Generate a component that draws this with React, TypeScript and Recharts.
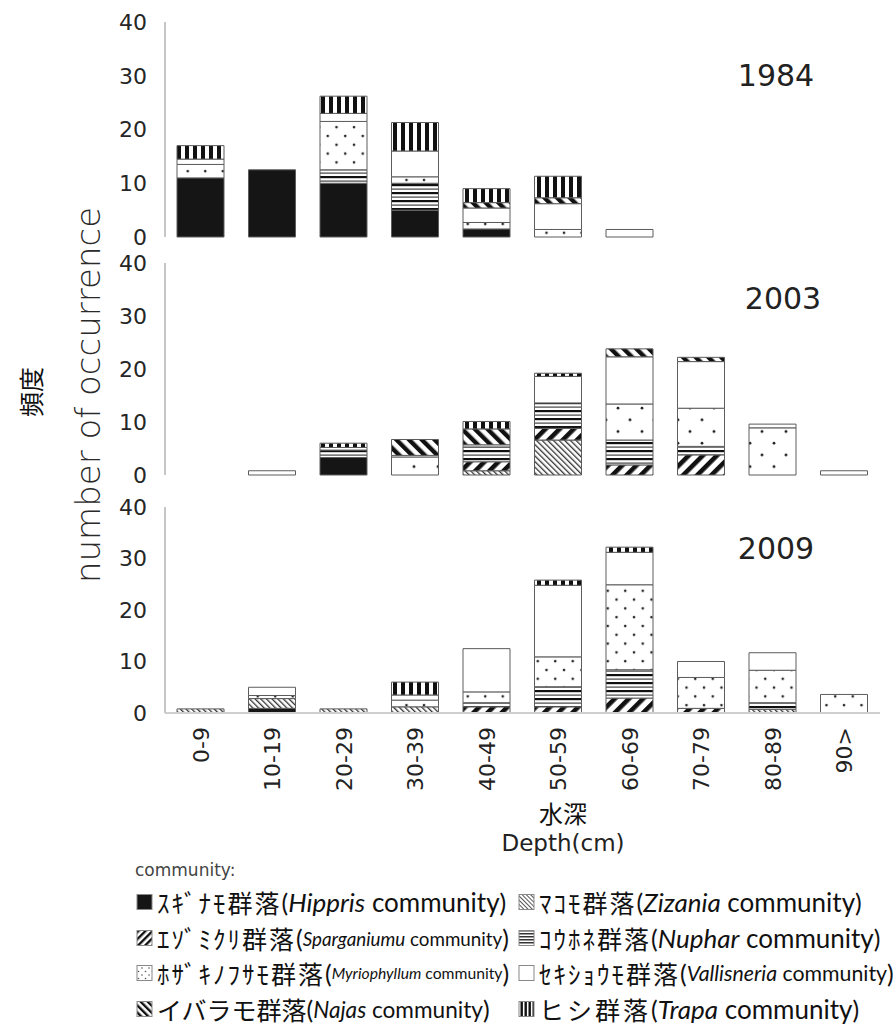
import React from 'react';
import { BarChart, Bar, XAxis, YAxis } from 'recharts';

// Depth classes (cm)
const depthBins = ['0-9', '10-19', '20-29', '30-39', '40-49', '50-59', '60-69', '70-79', '80-89', '90>'];
const countTicks = [0, 10, 20, 30, 40];

// 1984 survey
const hippris1984 = [11, 12.5, 10, 5, 1.5, 0, 0, 0, 0, 0];
const zizania1984 = [0, 0, 0, 0, 0, 0, 0, 0, 0, 0];
const sparganium1984 = [0, 0, 0, 0, 0, 0, 0, 0, 0, 0];
const nuphar1984 = [0, 0, 2.5, 5, 0, 0, 0, 0, 0, 0];
const myriophyllum1984 = [2.5, 0, 9, 1.2, 1.2, 1.4, 0, 0, 0, 0];
const vallisneria1984 = [1, 0, 1.5, 4.8, 2.7, 4.8, 1.4, 0, 0, 0];
const najas1984 = [0, 0, 0, 0, 1, 1.1, 0, 0, 0, 0];
const trapa1984 = [2.5, 0, 3.2, 5.3, 2.6, 4, 0, 0, 0, 0];

// 2003 survey
const hippris2003 = [0, 0, 3.3, 0, 0, 0, 0, 0, 0, 0];
const zizania2003 = [0, 0, 0, 0, 0.8, 6.6, 0, 0, 0, 0];
const sparganium2003 = [0, 0, 0, 0, 1.7, 2.2, 1.9, 3.8, 0, 0];
const nuphar2003 = [0, 0, 1.4, 0, 2.8, 4.8, 4.7, 1.6, 0, 0];
const myriophyllum2003 = [0, 0, 0, 3.4, 0, 0, 6.8, 7.2, 8.9, 0];
const vallisneria2003 = [0, 0.8, 0.5, 0.3, 0.4, 5, 8.9, 8.8, 0.7, 0.8];
const najas2003 = [0, 0, 0, 3, 3, 0, 1.5, 0.8, 0, 0];
const trapa2003 = [0, 0, 0.8, 0, 1.4, 0.6, 0, 0, 0, 0];

// 2009 survey
const hippris2009 = [0, 0.9, 0, 0, 0, 0, 0, 0, 0, 0];
const zizania2009 = [0.8, 1.9, 0.8, 1.2, 0, 0, 0, 0, 0.7, 0];
const sparganium2009 = [0, 0, 0, 0, 1.2, 1.2, 2.9, 0.9, 0, 0];
const nuphar2009 = [0, 0, 0, 0, 0.8, 3.9, 5.5, 0, 1.3, 0];
const myriophyllum2009 = [0, 0.6, 0, 1.3, 2.1, 5.8, 16.5, 6, 6.3, 3.6];
const vallisneria2009 = [0, 1.6, 0, 1, 8.4, 13.9, 6.3, 3.1, 3.4, 0];
const najas2009 = [0, 0, 0, 0, 0, 0, 0, 0, 0, 0];
const trapa2009 = [0, 0, 0, 2.5, 0, 1, 1, 0, 0, 0];

// Stack order, bottom to top
const communityKeys = ['hippris', 'zizania', 'sparganium', 'nuphar', 'myriophyllum', 'vallisneria', 'najas', 'trapa'];

const buildRows = (series: number[][]) =>
  depthBins.map((bin, i) => {
    const row: Record<string, any> = { bin };
    communityKeys.forEach((k, j) => {
      row[k] = series[j][i];
    });
    return row;
  });

const rows1984 = buildRows([hippris1984, zizania1984, sparganium1984, nuphar1984, myriophyllum1984, vallisneria1984, najas1984, trapa1984]);
const rows2003 = buildRows([hippris2003, zizania2003, sparganium2003, nuphar2003, myriophyllum2003, vallisneria2003, najas2003, trapa2003]);
const rows2009 = buildRows([hippris2009, zizania2009, sparganium2009, nuphar2009, myriophyllum2009, vallisneria2009, najas2009, trapa2009]);

const GOTHIC = "'DejaVu Sans', sans-serif";
const LEGEND_FONT = "Lato, 'Noto Sans CJK JP', sans-serif";
const CJK = "'Noto Sans CJK JP', sans-serif";

const Patterns = () => (
  <svg width="0" height="0" style={{ position: 'absolute' }}>
    <defs>
      <pattern id="pat-hippris" width="4" height="4" patternUnits="userSpaceOnUse">
        <rect width="4" height="4" fill="#151515" />
      </pattern>
      <pattern id="pat-zizania" width="4" height="4" patternUnits="userSpaceOnUse" patternTransform="rotate(-45)">
        <rect width="4" height="4" fill="#fff" />
        <rect width="1.3" height="4" fill="#333" />
      </pattern>
      <pattern id="pat-sparganium" width="10" height="10" patternUnits="userSpaceOnUse" patternTransform="rotate(45)">
        <rect width="10" height="10" fill="#fff" />
        <rect width="4.6" height="10" fill="#111" />
      </pattern>
      <pattern id="pat-nuphar" width="8" height="8" patternUnits="userSpaceOnUse">
        <rect width="8" height="8" fill="#fff" />
        <rect y="0" width="8" height="2.2" fill="#111" />
        <rect y="4.5" width="8" height="1.2" fill="#444" />
      </pattern>
      {/* fine dot grid (1984, 2009) */}
      <pattern id="pat-myriophyllum" width="17.5" height="17.6" patternUnits="userSpaceOnUse">
        <rect width="17.5" height="17.6" fill="#fff" />
        <circle cx="4" cy="4" r="1.3" fill="#222" />
        <circle cx="12.75" cy="12.8" r="1.3" fill="#222" />
      </pattern>
      {/* coarser dot grid (2003) */}
      <pattern id="pat-myriophyllum-wide" width="24" height="23.4" patternUnits="userSpaceOnUse">
        <rect width="24" height="23.4" fill="#fff" />
        <circle cx="6" cy="6" r="1.4" fill="#222" />
        <circle cx="18" cy="17.7" r="1.4" fill="#222" />
      </pattern>
      <pattern id="pat-vallisneria" width="4" height="4" patternUnits="userSpaceOnUse">
        <rect width="4" height="4" fill="#fff" />
      </pattern>
      <pattern id="pat-najas" width="9" height="9" patternUnits="userSpaceOnUse" patternTransform="rotate(-45)">
        <rect width="9" height="9" fill="#fff" />
        <rect width="4.4" height="9" fill="#111" />
      </pattern>
      <pattern id="pat-trapa" width="8" height="8" patternUnits="userSpaceOnUse">
        <rect width="8" height="8" fill="#fff" />
        <rect x="1" width="4" height="8" fill="#111" />
      </pattern>
      <pattern id="sw-myriophyllum" width="7" height="7" patternUnits="userSpaceOnUse">
        <rect width="7" height="7" fill="#fff" />
        <circle cx="2" cy="2" r="0.8" fill="#555" />
        <circle cx="5.5" cy="5.5" r="0.8" fill="#555" />
      </pattern>
      <pattern id="sw-nuphar" width="3" height="3" patternUnits="userSpaceOnUse">
        <rect width="3" height="3" fill="#fff" />
        <rect width="3" height="1.5" fill="#333" />
      </pattern>
      <pattern id="sw-trapa" width="4" height="4" patternUnits="userSpaceOnUse">
        <rect width="4" height="4" fill="#fff" />
        <rect x="0.5" width="2.4" height="4" fill="#111" />
      </pattern>
      <pattern id="sw-sparganium" width="5" height="5" patternUnits="userSpaceOnUse" patternTransform="rotate(45)">
        <rect width="5" height="5" fill="#fff" />
        <rect width="2.4" height="5" fill="#111" />
      </pattern>
      <pattern id="sw-najas" width="5" height="5" patternUnits="userSpaceOnUse" patternTransform="rotate(-45)">
        <rect width="5" height="5" fill="#fff" />
        <rect width="2.4" height="5" fill="#111" />
      </pattern>
      <pattern id="sw-zizania" width="3" height="3" patternUnits="userSpaceOnUse" patternTransform="rotate(-45)">
        <rect width="3" height="3" fill="#fff" />
        <rect width="1" height="3" fill="#555" />
      </pattern>
    </defs>
  </svg>
);

const DepthTick = (props: any) => {
  const { x, y, payload } = props;
  return (
    <text
      x={x}
      y={y}
      transform={`rotate(-90 ${x} ${y})`}
      textAnchor="end"
      dy="0.36em"
      fill="#222"
      fontSize={22}
      fontFamily={GOTHIC}
    >
      {payload.value}
    </text>
  );
};

type PanelProps = {
  rows: Record<string, any>[];
  top: number;
  height: number;
  marginTop: number;
  marginBottom: number;
  xAxisHeight: number;
  showDepth: boolean;
  dotFill: string;
};

const Panel = ({ rows, top, height, marginTop, marginBottom, xAxisHeight, showDepth, dotFill }: PanelProps) => (
  <div style={{ position: 'absolute', left: 0, top }}>
    <BarChart
      width={896}
      height={height}
      data={rows}
      margin={{ top: marginTop, right: 16, bottom: marginBottom, left: 105 }}
      barCategoryGap={0}
    >
      <XAxis
        dataKey="bin"
        height={xAxisHeight}
        axisLine={{ stroke: '#cfcfcf', strokeWidth: 2 }}
        tickLine={false}
        tick={showDepth ? <DepthTick /> : false}
        tickSize={0}
        tickMargin={14}
        interval={0}
      />
      <YAxis
        domain={[0, 40]}
        ticks={countTicks}
        interval={0}
        width={60}
        axisLine={{ stroke: '#c6c6c6', strokeWidth: 2 }}
        tickLine={false}
        tickSize={0}
        tickMargin={18}
        tick={{ fill: '#262626', fontSize: 22, fontFamily: GOTHIC }}
      />
      {communityKeys.map((k) => (
        <Bar
          key={k}
          dataKey={k}
          stackId="s"
          barSize={47}
          fill={k === 'myriophyllum' ? dotFill : `url(#pat-${k})`}
          stroke="#5c5c5c"
          strokeWidth={1}
          isAnimationActive={false}
        />
      ))}
    </BarChart>
  </div>
);

const legendItems = [
  { key: 'hippris', swatch: 'pat-hippris', col: 0, row: 0, jp: 'ｽｷﾞﾅﾓ群落', jpSpacing: 2, sp: 'Hippris', spSize: 26 },
  { key: 'sparganium', swatch: 'sw-sparganium', col: 0, row: 1, jp: 'ｴｿﾞﾐｸﾘ群落', jpSpacing: 2, sp: 'Sparganiumu', spSize: 18.8 },
  { key: 'myriophyllum', swatch: 'sw-myriophyllum', col: 0, row: 2, jp: 'ﾎｻﾞｷﾉﾌｻﾓ群落', jpSpacing: 2, sp: 'Myriophyllum', spSize: 15.7 },
  { key: 'najas', swatch: 'sw-najas', col: 0, row: 3, jp: 'イバラモ群落', jpSpacing: 0, sp: 'Najas', spSize: 22.6 },
  { key: 'zizania', swatch: 'sw-zizania', col: 1, row: 0, jp: 'ﾏｺﾓ群落', jpSpacing: 2, sp: 'Zizania', spSize: 26 },
  { key: 'nuphar', swatch: 'sw-nuphar', col: 1, row: 1, jp: 'ｺｳﾎﾈ群落', jpSpacing: 2, sp: 'Nuphar', spSize: 26 },
  { key: 'vallisneria', swatch: 'pat-vallisneria', col: 1, row: 2, jp: 'ｾｷｼｮｳﾓ群落', jpSpacing: 2, sp: 'Vallisneria', spSize: 21.3 },
  { key: 'trapa', swatch: 'sw-trapa', col: 1, row: 3, jp: 'ヒシ群落', jpSpacing: 3, sp: 'Trapa', spSize: 26 },
];
const legendRowY = [902, 938, 973, 1009];
const legendColX = [137, 519];

const Annotations = () => (
  <svg width={896} height={1032} style={{ position: 'absolute', left: 0, top: 0, pointerEvents: 'none' }}>
    {/* survey years */}
    <text x={776} y={75} textAnchor="middle" dominantBaseline="central" fontSize={30} fill="#222" fontFamily={GOTHIC}>1984</text>
    <text x={783} y={298} textAnchor="middle" dominantBaseline="central" fontSize={30} fill="#222" fontFamily={GOTHIC}>2003</text>
    <text x={776} y={548} textAnchor="middle" dominantBaseline="central" fontSize={30} fill="#222" fontFamily={GOTHIC}>2009</text>

    {/* value axis titles */}
    <text
      x={88}
      y={395}
      transform="rotate(-90 88 395)"
      textAnchor="middle"
      dominantBaseline="central"
      fontSize={34}
      fill="#2a2a2a"
      fontFamily={GOTHIC}
      fontWeight={200}
    >
      number of occurrence
    </text>
    <text
      x={30}
      y={392}
      transform="rotate(-90 30 392)"
      textAnchor="middle"
      dominantBaseline="central"
      fontSize={25}
      fill="#111"
      fontFamily={CJK}
    >
      頻度
    </text>

    {/* depth axis titles */}
    <text x={563} y={812} textAnchor="middle" dominantBaseline="central" fontSize={24} fill="#111" fontFamily={CJK}>水深</text>
    <text x={563} y={843} textAnchor="middle" dominantBaseline="central" fontSize={23} fill="#222" fontFamily={GOTHIC}>Depth(cm)</text>

    {/* legend */}
    <text x={135} y={870} dominantBaseline="central" fontSize={17} fill="#444" fontFamily={GOTHIC}>community:</text>
    {legendItems.map((it) => {
      const x = legendColX[it.col];
      const y = legendRowY[it.row];
      return (
        <g key={it.key}>
          <rect x={x} y={y - 7.5} width={15} height={15} fill={`url(#${it.swatch})`} stroke="#888" strokeWidth={1} />
          <text x={x + 20} y={y} dominantBaseline="central" fill="#111" fontFamily={LEGEND_FONT}>
            <tspan fontSize={25} fontFamily={CJK} letterSpacing={it.jpSpacing}>{it.jp}</tspan>
            <tspan fontSize={25}>(</tspan>
            <tspan fontSize={it.spSize} fontStyle="italic">{it.sp}</tspan>
            <tspan fontSize={it.spSize}> community</tspan>
            <tspan fontSize={25}>)</tspan>
          </text>
        </g>
      );
    })}
  </svg>
);

export default function App() {
  return (
    <div style={{ position: 'absolute', left: 0, top: 0, width: 896, height: 1032, background: '#fff' }}>
      <Patterns />
      <Panel rows={rows1984} top={0} height={250} marginTop={22} marginBottom={13} xAxisHeight={0} showDepth={false} dotFill="url(#pat-myriophyllum)" />
      <Panel rows={rows2003} top={250} height={240} marginTop={13} marginBottom={15} xAxisHeight={0} showDepth={false} dotFill="url(#pat-myriophyllum-wide)" />
      <Panel rows={rows2009} top={490} height={320} marginTop={17} marginBottom={0} xAxisHeight={97} showDepth={true} dotFill="url(#pat-myriophyllum)" />
      <Annotations />
    </div>
  );
}
